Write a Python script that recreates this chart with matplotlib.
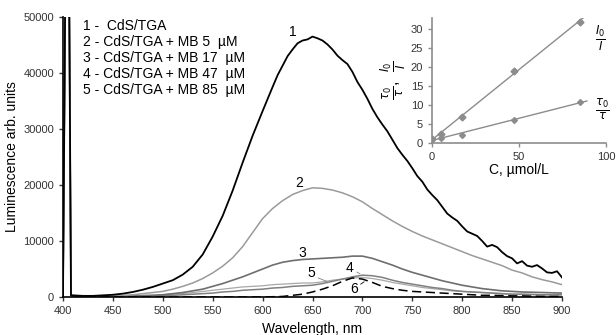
import numpy as np
import matplotlib
matplotlib.use("Agg")
import matplotlib.pyplot as plt

plt.rcParams['font.family'] = ['Liberation Sans', 'DejaVu Sans']

# emission spectra, values in thousands of counts
spike_wl = [400, 402.5, 406, 408]
spike_val = [0.3, 60, 60, 0.3]

wl = [410, 420, 430, 440, 450, 460, 470, 480, 490, 500, 510, 520, 530, 540, 550,
      560, 570, 580, 590, 600, 610, 620, 630, 640, 650, 660, 670, 680, 690, 700,
      710, 720, 730, 740, 750, 760, 770, 780, 790, 800, 810, 820, 830, 840, 850,
      860, 870, 880, 890, 900]

wl_tail = [615, 625, 635, 645, 655, 665, 675, 685, 695, 705, 715, 725, 735, 745,
           755, 765, 775, 785, 795, 805, 815, 825, 835, 845, 855, 865, 875, 885, 895]

c1 = [0.3, 0.2, 0.2, 0.3, 0.4, 0.6, 0.9, 1.3, 1.8, 2.4, 3.0, 4.0, 5.4, 7.6, 10.8,
      14.5, 19.0, 24.0, 28.8, 33.2, 37.5, 41.3, 44.2, 45.8, 46.5, 45.8, 44.2, 42.3, 40.2, 37.0,
      33.6, 30.8, 28.1, 25.4, 23.0, 20.6, 18.2, 16.1, 14.2, 12.6, 11.3, 10.0, 9.3, 8.0, 6.9,
      6.4, 5.4, 5.1, 4.3, 3.5]
c1_tail = [39.6, 43.0, 45.3, 46.0, 46.2, 45.1, 43.1, 41.6, 38.4, 35.4, 32.1, 29.6, 26.6, 24.3,
           21.6, 19.2, 17.3, 14.9, 13.6, 11.7, 10.9, 9.0, 8.9, 7.3, 6.0, 5.6, 5.7, 4.4, 4.6]

c2 = [0.2, 0.1, 0.1, 0.15, 0.2, 0.3, 0.4, 0.6, 0.8, 1.0, 1.4, 1.9, 2.5, 3.3, 4.3,
      5.5, 7.0, 9.0, 11.5, 14.0, 15.8, 17.2, 18.3, 19.0, 19.5, 19.4, 19.1, 18.6, 17.9, 17.0,
      15.8, 14.7, 13.6, 12.6, 11.7, 10.9, 10.2, 9.5, 8.8, 8.1, 7.4, 6.8, 6.2, 5.6, 4.8,
      4.3, 3.6, 3.1, 2.7, 2.2]
c3 = [0.2, 0.1, 0.1, 0.1, 0.1, 0.15, 0.2, 0.25, 0.3, 0.4, 0.6, 0.8, 1.1, 1.4, 1.9,
      2.4, 3.0, 3.6, 4.3, 5.0, 5.7, 6.2, 6.5, 6.7, 6.8, 6.9, 7.0, 7.1, 7.3, 7.3,
      6.9, 6.3, 5.7, 5.0, 4.4, 3.9, 3.4, 2.9, 2.5, 2.1, 1.8, 1.5, 1.3, 1.1, 1.0,
      0.9, 0.85, 0.8, 0.75, 0.7]
c4 = [0.1, 0.1, 0.1, 0.1, 0.1, 0.1, 0.1, 0.15, 0.2, 0.2, 0.3, 0.4, 0.5, 0.6, 0.7,
      0.9, 1.0, 1.2, 1.3, 1.4, 1.6, 1.7, 1.9, 2.0, 2.1, 2.4, 2.8, 3.2, 3.6, 3.9,
      3.8, 3.5, 3.0, 2.6, 2.3, 2.0, 1.7, 1.5, 1.2, 1.0, 0.9, 0.8, 0.7, 0.6, 0.5,
      0.5, 0.45, 0.4, 0.4, 0.4]
c5 = [0.1, 0.1, 0.1, 0.1, 0.1, 0.15, 0.2, 0.25, 0.3, 0.4, 0.5, 0.6, 0.8, 1.0, 1.2,
      1.4, 1.6, 1.8, 1.9, 2.0, 2.2, 2.3, 2.4, 2.5, 2.5, 2.7, 3.0, 3.2, 3.4, 3.5,
      3.3, 3.0, 2.6, 2.3, 2.0, 1.7, 1.5, 1.3, 1.1, 1.0, 0.9, 0.8, 0.7, 0.6, 0.5,
      0.5, 0.45, 0.4, 0.4, 0.4]
c6 = [0.0, 0.0, 0.0, 0.0, 0.0, 0.0, 0.0, 0.0, 0.0, 0.0, 0.0, 0.0, 0.0, 0.0, 0.0,
      0.0, 0.0, 0.0, 0.0, 0.0, 0.05, 0.1, 0.3, 0.5, 0.9, 1.4, 2.0, 2.8, 3.4, 3.2,
      2.6, 1.9, 1.5, 1.2, 1.0, 0.9, 0.8, 0.7, 0.6, 0.5, 0.4, 0.3, 0.3, 0.25, 0.2,
      0.2, 0.15, 0.1, 0.1, 0.1]

legend_lines = ['1 -  CdS/TGA', '2 - CdS/TGA + MB 5  \u00b5M', '3 - CdS/TGA + MB 17  \u00b5M',
                '4 - CdS/TGA + MB 47  \u00b5M', '5 - CdS/TGA + MB 85  \u00b5M']

# Stern-Volmer inset
conc = [0, 5, 17, 47, 85]
i_ratio = [1, 2.4, 6.9, 19.0, 32.0]
tau_ratio = [1, 1.3, 2.2, 6.2, 10.7]

fig = plt.figure(figsize=(6.16, 3.35), dpi=100)
ax = fig.add_axes([63 / 616, 38 / 335, 499 / 616, 280 / 335])

styles = [(c1, 'black', 1.3), (c2, '#9a9a9a', 1.1), (c3, '#6e6e6e', 1.2),
          (c4, '#808080', 1.1), (c5, '#a8a8a8', 0.9)]
for vals, col, lw in styles[::-1]:
    if vals is c1:
        x = np.array(spike_wl + wl + wl_tail)
        y = np.array(spike_val + vals + c1_tail)
        order = np.argsort(x)
        x, y = x[order], y[order]
    else:
        x = spike_wl + wl
        y = spike_val + vals
    ax.plot(x, np.array(y) * 1000, color=col, lw=lw)
ax.plot(wl, np.array(c6) * 1000, color='black', lw=1.1, ls=(0, (6, 3)))

ax.set_xlim(400, 900)
ax.set_ylim(0, 50000)
ax.set_xticks(range(400, 901, 50))
ax.set_yticks(range(0, 50001, 10000))
for s in ['top', 'right']:
    ax.spines[s].set_visible(False)
for s in ['left', 'bottom']:
    ax.spines[s].set_linewidth(1.2)
ax.tick_params(labelsize=8, length=3, width=1, direction='out', colors='#333333')
ax.set_xlabel('Wavelength, nm', fontsize=10, labelpad=4)
ax.set_ylabel('Luminescence arb. units', fontsize=10, labelpad=3)

for i, t in enumerate(legend_lines):
    ax.text(0.04, 0.968 - i * 0.057, t, transform=ax.transAxes, fontsize=10, va='center')

num_labels = [('1', 630, 47300), ('2', 637, 20400), ('3', 640, 7900),
              ('5', 649, 4300), ('4', 687, 5200), ('6', 692, 1500)]
for t, x, y in num_labels:
    ax.text(x, y, t, fontsize=10, ha='center', va='center')
ax.annotate('', xy=(667, 2600), xytext=(653, 3600),
            arrowprops=dict(arrowstyle='-', color='gray', lw=0.6))
ax.annotate('', xy=(700, 3900), xytext=(692, 4700),
            arrowprops=dict(arrowstyle='-', color='gray', lw=0.6))
ax.annotate('', xy=(704, 3000), xytext=(696, 2000),
            arrowprops=dict(arrowstyle='-', color='black', lw=0.6))

# inset
ins = fig.add_axes([432 / 616, 192 / 335, 174 / 616, 125 / 335])
gray = '#8c8c8c'
p1 = np.polyfit(conc, i_ratio, 1)
p2 = np.polyfit(conc, tau_ratio, 1)
xf1 = np.array([0, 94])
xf2 = np.array([0, 89])
ins.plot(xf1, np.polyval(p1, xf1), color=gray, lw=1)
ins.plot(xf2, np.polyval(p2, xf2), color=gray, lw=1)
ins.plot(conc, i_ratio, 'D', color=gray, ms=3.5)
ins.plot(conc, tau_ratio, 'D', color=gray, ms=3)
ins.set_xlim(0, 100)
ins.set_ylim(0, 33)
ins.set_xticks([0, 50, 100])
ins.set_yticks(range(0, 31, 5))
for s in ['top', 'right']:
    ins.spines[s].set_visible(False)
for s in ['left', 'bottom']:
    ins.spines[s].set_color(gray)
    ins.spines[s].set_linewidth(1.2)
ins.tick_params(labelsize=8, length=3, width=1, color=gray, labelcolor='#333333', direction='out')
ins.set_xlabel('C, \u00b5mol/L', fontsize=10, labelpad=1)
ins.set_ylabel(r'$\frac{\tau_0}{\tau}$,  $\frac{I_0}{I}$', fontsize=12, labelpad=2)
ins.text(0.935, 0.84, r'$\frac{I_0}{I}$', transform=ins.transAxes, fontsize=12, ha='left', va='center')
ins.text(0.935, 0.27, r'$\frac{\tau_0}{\tau}$', transform=ins.transAxes, fontsize=12, ha='left', va='center')

fig.savefig('out.png', dpi=100)
